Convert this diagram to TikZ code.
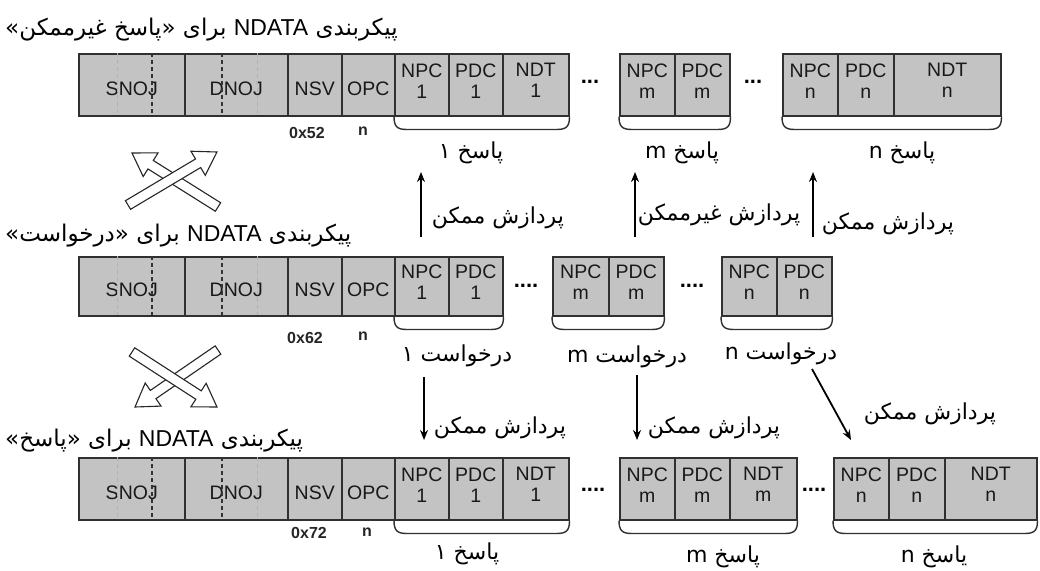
\documentclass[tikz,border=0pt]{standalone}
\usepackage{fontspec}
\setmainfont{Liberation Sans}
\newfontfamily\farsi[Script=Arabic]{DejaVu Sans}
\newfontfamily\lat{Liberation Sans}
\usetikzlibrary{calc,arrows.meta}
\TeXXeTstate=1
\definecolor{cellgray}{HTML}{C3C3C3}
\definecolor{edge}{HTML}{303030}
% right-to-left Persian text
\newcommand{\fa}[1]{{\farsi\beginR #1\endR}}
% one field of a frame: [text shift], name, top-left corner, width, height, text
\newcommand{\cellat}[6][4pt]{\node[cell, minimum width=#4, minimum height=#5,
  label={[celltext, yshift=#1]center:#6}] (#2) at (#3) {};}
% dotted separators inside the SNOJ and DNOJ fields of a row (top y, bottom y)
\newcommand{\innerdash}[2]{%
  \draw[lightdash] (117,#1) -- (117,#2);
  \draw[darkdash] (152,#1) -- (152,#2);
  \draw[darkdash] (222,#1) -- (222,#2);
  \draw[lightdash] (257,#1) -- (257,#2);}
% rounded bracket under a group of fields
\newcommand{\groupbrace}[2]{%
  \draw[brace] (#1.south west) .. controls +(0,10) and +(-10,0) .. ($(#1.south west)+(13,13)$)
    -- ($(#2.south east)+(-13,13)$) .. controls +(10,0) and +(0,10) .. (#2.south east);}
% hollow block arrow from tail #1 to tip #2
\newcommand{\blockarrow}[2]{%
  \path ($(#2)!22pt!(#1)$) coordinate (hb);
  \draw[hollow] ($(#1)!5pt!90:(#2)$) -- ($(hb)!5pt!-90:(#1)$) -- ($(hb)!14pt!-90:(#1)$) -- (#2)
    -- ($(hb)!14pt!90:(#1)$) -- ($(hb)!5pt!90:(#1)$) -- ($(#1)!5pt!-90:(#2)$) -- cycle;}
\begin{document}
\begin{tikzpicture}[x=1pt,y=-1pt,
  cell/.style={draw=edge, line width=1.5pt, fill=cellgray, inner sep=0pt, anchor=north west},
  celltext/.style={align=center, inner sep=0pt, text=black!90, font=\fontsize{19.5}{21}\selectfont},
  lightdash/.style={gray!60, line width=0.9pt, dash pattern=on 4pt off 3pt},
  darkdash/.style={gray!40!black, line width=1.1pt, dash pattern=on 4pt off 3pt},
  brace/.style={edge, line width=1.4pt},
  hollow/.style={draw=black!85, line width=1.1pt, fill=white, line join=miter},
  arr/.style={black, line width=1.8pt, -{Stealth[length=10pt,width=8pt]}},
  hex/.style={font=\bfseries\fontsize{16}{18}\selectfont, text=black!85},
  dots/.style={font=\bfseries\fontsize{22}{24}\selectfont},
  fatext/.style={font=\fontsize{22}{24}\selectfont, inner sep=1pt},
  title/.style={font=\fontsize{23}{25}\selectfont, anchor=west, inner sep=0pt}]
\useasboundingbox (0,0) rectangle (1040,570);
\fill[white] (0,0) rectangle (1040,570);

% ---------- frame for "non-possible response" ----------
\node[title] (t1) at (5,30) {\fa{پیکربندی \beginL{\lat NDATA}\endL{} برای «پاسخ غیرممکن»}};
\cellat[-4pt]{r1snoj}{78,53}{106}{62}{SNOJ}
\cellat[-4pt]{r1dnoj}{184,53}{103}{62}{DNOJ}
\cellat[-4pt]{r1nsv}{287,53}{54}{62}{NSV}
\cellat[-4pt]{r1opc}{341,53}{53}{62}{OPC}
\cellat{r1npc1}{394,53}{54}{62}{NPC\\1}
\cellat{r1pdc1}{448,53}{54}{62}{PDC\\1}
\cellat{r1ndt1}{502,53}{66}{62}{NDT\\1}
\cellat{r1npcm}{619,53}{55}{62}{NPC\\m}
\cellat{r1pdcm}{674,53}{55}{62}{PDC\\m}
\cellat{r1npcn}{782,53}{55}{62}{NPC\\n}
\cellat{r1pdcn}{837,53}{56}{62}{PDC\\n}
\cellat{r1ndtn}{893,53}{107}{62}{NDT\\n}
\innerdash{53}{115}
\node[dots] (r1d1) at (590,82) {...};
\node[dots] (r1d2) at (753,82) {...};
\groupbrace{r1npc1}{r1ndt1}
\groupbrace{r1npcm}{r1pdcm}
\groupbrace{r1npcn}{r1ndtn}
\node[hex] (r1hex) at (307,133) {0x52};
\node[hex] (r1n) at (363,131) {n};
\node[fatext] (r1g1) at (471,153) {\fa{پاسخ ۱}};
\node[fatext] (r1gm) at (682,153) {\fa{پاسخ m}};
\node[fatext] (r1gn) at (902,153) {\fa{پاسخ n}};

% ---------- processing from request to response ----------
\coordinate (u1b) at (421,237); \coordinate (u1t) at (421,172);
\coordinate (u2b) at (635,237); \coordinate (u2t) at (635,172);
\coordinate (u3b) at (813,237); \coordinate (u3t) at (813,172);
\draw[arr] (u1b) -- (u1t);
\draw[arr] (u2b) -- (u2t);
\draw[arr] (u3b) -- (u3t);
\node[fatext] (p1) at (498,218) {\fa{پردازش ممکن}};
\node[fatext] (p2) at (719,215) {\fa{پردازش غیرممکن}};
\node[fatext] (p3) at (888,224) {\fa{پردازش ممکن}};

% crossing hollow arrows between the first two frames
\coordinate (xa1) at (128,205); \coordinate (xa2) at (217,152);
\coordinate (xb1) at (218,207); \coordinate (xb2) at (132,153);
\blockarrow{xb1}{xb2}
\blockarrow{xa1}{xa2}

% ---------- frame for "request" ----------
\node[title] (t2) at (5,236) {\fa{پیکربندی \beginL{\lat NDATA}\endL{} برای «درخواست»}};
\cellat[-4pt]{r2snoj}{78,256}{106}{59}{SNOJ}
\cellat[-4pt]{r2dnoj}{184,256}{103}{59}{DNOJ}
\cellat[-4pt]{r2nsv}{287,256}{54}{59}{NSV}
\cellat[-4pt]{r2opc}{341,256}{53}{59}{OPC}
\cellat{r2npc1}{394,256}{54}{59}{NPC\\1}
\cellat{r2pdc1}{448,256}{54}{59}{PDC\\1}
\cellat{r2npcm}{552,256}{56}{59}{NPC\\m}
\cellat{r2pdcm}{608,256}{55}{59}{PDC\\m}
\cellat{r2npcn}{721,256}{55}{59}{NPC\\n}
\cellat{r2pdcn}{776,256}{55}{59}{PDC\\n}
\innerdash{256}{315}
\node[dots] (r2d1) at (526,286) {....};
\node[dots] (r2d2) at (692,286) {....};
\groupbrace{r2npc1}{r2pdc1}
\groupbrace{r2npcm}{r2pdcm}
\groupbrace{r2npcn}{r2pdcn}
\node[hex] (r2hex) at (305,338) {0x62};
\node[hex] (r2n) at (363,336) {n};
\node[fatext] (r2g1) at (457,356) {\fa{درخواست ۱}};
\node[fatext] (r2gm) at (627,357) {\fa{درخواست m}};
\node[fatext] (r2gn) at (781,354) {\fa{درخواست n}};

% ---------- processing from request to response ----------
\coordinate (d1t) at (424,377); \coordinate (d1b) at (424,440);
\coordinate (d2t) at (637,375); \coordinate (d2b) at (637,440);
\coordinate (d3t) at (812,369); \coordinate (d3b) at (851,440);
\draw[arr] (d1t) -- (d1b);
\draw[arr] (d2t) -- (d2b);
\draw[arr] (d3t) -- (d3b);
\node[fatext] (q1) at (500,428) {\fa{پردازش ممکن}};
\node[fatext] (q2) at (714,428) {\fa{پردازش ممکن}};
\node[fatext] (q3) at (930,414) {\fa{پردازش ممکن}};

% crossing hollow arrows between the last two frames
\coordinate (ya1) at (218,350); \coordinate (ya2) at (135,407);
\coordinate (yb1) at (132,352); \coordinate (yb2) at (217,407);
\blockarrow{ya1}{ya2}
\blockarrow{yb1}{yb2}

% ---------- frame for "response" ----------
\node[title] (t3) at (5,441) {\fa{پیکربندی \beginL{\lat NDATA}\endL{} برای «پاسخ»}};
\cellat[-4pt]{r3snoj}{78,457}{106}{62}{SNOJ}
\cellat[-4pt]{r3dnoj}{184,457}{103}{62}{DNOJ}
\cellat[-4pt]{r3nsv}{287,457}{54}{62}{NSV}
\cellat[-4pt]{r3opc}{341,457}{53}{62}{OPC}
\cellat{r3npc1}{394,457}{54}{62}{NPC\\1}
\cellat{r3pdc1}{448,457}{54}{62}{PDC\\1}
\cellat{r3ndt1}{502,457}{66}{62}{NDT\\1}
\cellat{r3npcm}{619,457}{55}{62}{NPC\\m}
\cellat{r3pdcm}{674,457}{55}{62}{PDC\\m}
\cellat{r3ndtm}{729,457}{67}{62}{NDT\\m}
\cellat{r3npcn}{833,457}{55}{62}{NPC\\n}
\cellat{r3pdcn}{888,457}{56}{62}{PDC\\n}
\cellat{r3ndtn}{944,457}{92}{62}{NDT\\n}
\innerdash{457}{519}
\node[dots] (r3d1) at (593,490) {....};
\node[dots] (r3d2) at (814,490) {....};
\groupbrace{r3npc1}{r3ndt1}
\groupbrace{r3npcm}{r3ndtm}
\groupbrace{r3npcn}{r3ndtn}
\node[hex] (r3hex) at (309,533) {0x72};
\node[hex] (r3n) at (367,532) {n};
\node[fatext] (r3g1) at (467,554) {\fa{پاسخ ۱}};
\node[fatext] (r3gm) at (723,557) {\fa{پاسخ m}};
\node[fatext] (r3gn) at (934,557) {\fa{یاسخ n}};
\end{tikzpicture}
\end{document}
